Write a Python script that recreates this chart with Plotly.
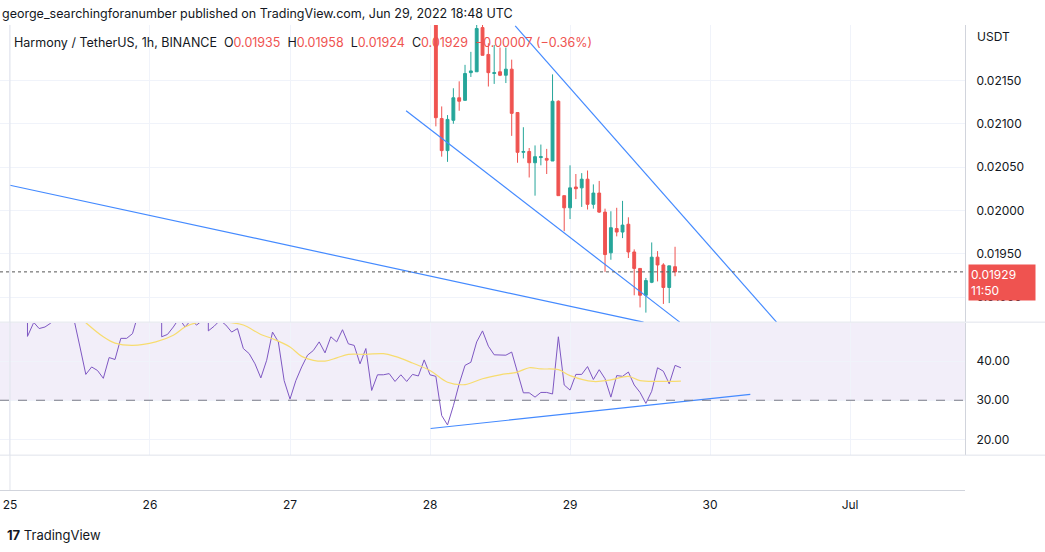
import pandas as pd
import plotly.graph_objects as go

# hourly candles, Jun 28 01:00 -> Jun 29 18:00
candle_start = "2022-06-28 01:00"
opens = [.02240, .02106, .02069, .02104, .02130, .02127, .02159, .02160, .02211, .02180,
         .02158, .02160, .02156, .02163, .02113, .02067, .02068, .02055, .02061, .02060,
         .02057, .02126, .02017, .02003, .02027, .02026, .02036, .02007, .02020, .01998,
         .01951, .01979, .01975, .01984, .01952, .01933, .01902, .01917, .01946, .01937,
         .01911, .01935]
highs = [.02260, .02120, .02110, .02141, .02149, .02168, .02183, .02214, .02220, .02193,
         .02191, .02188, .02188, .02174, .02113, .02096, .02072, .02075, .02076, .02071,
         .02157, .02127, .02017, .02052, .02042, .02043, .02046, .02030, .02034, .02002,
         .01999, .02003, .02011, .01992, .01955, .01933, .01922, .01963, .01953, .01939,
         .01936, .01958]
lows = [.02097, .02062, .02056, .02100, .02115, .02127, .02154, .02160, .02179, .02143,
        .02146, .02155, .02147, .02086, .02055, .02060, .02038, .02017, .02052, .02042,
        .02057, .02017, .01976, .01990, .02013, .02004, .02001, .02002, .01997, .01929,
        .01943, .01970, .01968, .01945, .01902, .01888, .01882, .01916, .01918, .01892,
        .01893, .01924]
closes = [.02107, .02069, .02105, .02130, .02126, .02158, .02161, .02210, .02179, .02159,
          .02159, .02156, .02163, .02112, .02067, .02068, .02055, .02062, .02062, .02058,
          .02126, .02017, .02003, .02026, .02025, .02036, .02007, .02020, .01998, .01949,
          .01980, .01975, .01983, .01952, .01933, .01902, .01919, .01946, .01937, .01911,
          .01936, .01929]

# RSI (hours after Jun 25 00:00)
rsi_hours = [3, 3, 4, 4, 5, 6, 7, 7, 9, 11, 12, 13, 14, 15, 16, 17, 18, 19, 20, 21, 22, 23,
             25, 26, 26, 27, 28, 29, 30, 31, 32, 33, 34, 34, 35, 36, 37, 38, 39, 40, 41, 42,
             43, 44, 45, 46, 47, 48, 49, 50, 51, 52, 53, 54, 55, 56, 57, 58, 59, 60, 61, 62,
             63, 64, 65, 66, 67, 68, 69, 70, 71, 72, 73, 74, 75, 76, 77, 78, 79, 80, 81, 82,
             83, 84, 85, 86, 87, 88, 89, 90, 91, 92, 93, 94, 95, 96, 97, 98, 99, 100, 101,
             102, 103, 104, 105, 106, 107, 108, 109, 110, 111, 112, 113, 114, 115]
rsi_vals = [50.0, 46.3, 49.6, 50.0, 48.3, 48.7, 49.7, 53.0, 57.3, 50.4, 43.6, 36.6, 38.5, 37.6,
            35.6, 40.9, 40.4, 45.8, 45.8, 47.0, 52.1, 56.4, 53.0, 50.4, 46.2, 46.8, 48.7,
            50.9, 48.7, 50.4, 49.2, 50.4, 50.0, 47.7, 48.9, 50.4, 49.2, 47.4, 48.3, 43.2,
            41.9, 39.3, 35.7, 40.2, 47.4, 44.9, 35.0, 30.3, 35.0, 38.5, 41.5, 42.7, 44.9,
            42.1, 46.2, 44.9, 48.0, 44.4, 44.0, 39.3, 43.2, 32.5, 36.5, 36.5, 36.8, 34.8,
            36.5, 34.8, 36.6, 36.2, 40.3, 36.5, 36.1, 26.1, 23.7, 28.6, 34.2, 38.9, 39.7,
            44.9, 47.7, 43.8, 41.6, 41.5, 41.5, 42.3, 36.8, 31.9, 31.9, 30.8, 32.0, 32.0,
            31.6, 46.2, 33.9, 32.6, 36.6, 36.6, 38.6, 35.3, 37.8, 35.5, 30.8, 36.3, 36.1,
            37.2, 33.9, 32.0, 29.2, 32.3, 38.3, 37.4, 34.2, 38.9, 38.3]
ma_hours = [13, 16, 18, 21, 25, 28, 30, 32, 35, 38, 40, 43, 45, 48, 50, 52, 54, 56, 58, 61,
            64, 66, 69, 72, 75, 78, 81, 84, 87, 89, 91, 94, 96, 100, 103, 106, 108, 111, 115]
ma_vals = [49.8, 46.2, 44.6, 44.0, 44.9, 46.6, 48.7, 49.8, 50.3, 49.8, 49.2, 46.8, 45.7,
           43.6, 41.2, 40.2, 40.0, 40.8, 41.7, 41.7, 41.9, 41.2, 39.5, 37.6, 34.6, 34.0,
           35.5, 36.5, 37.2, 38.3, 38.0, 37.8, 36.3, 34.8, 35.2, 36.1, 35.0, 34.8, 34.9]

# drawn trendlines: (hours after Jun 25, value)
fall_line = [(0, .02029), (108.6, .01871)]
channel_low = [(67.9, .02115), (114.8, .01871)]
channel_high = [(86.6, .02213), (131.4, .01871)]
rsi_line = [(72.1, 22.8), (126.9, 31.5)]

day_ticks = ["2022-06-25", "2022-06-26", "2022-06-27", "2022-06-28", "2022-06-29",
             "2022-06-30", "2022-07-01"]
day_labels = ["25", "26", "27", "28", "29", "30", "Jul"]
price_ticks = [0.0190, 0.0195, 0.0200, 0.0205, 0.0210, 0.0215]
last_price = 0.01929

base = pd.Timestamp("2022-06-25")
hr = lambda h: base + pd.Timedelta(hours=h)
times = pd.date_range(candle_start, periods=len(opens), freq="h")

GREEN, RED = "#26a69a", "#ef5350"
BLUE = "#448aff"
GRID = "#f0f3fa"

fig = go.Figure()
fig.add_trace(go.Candlestick(
    x=times, open=opens, high=highs, low=lows, close=closes,
    increasing=dict(line=dict(color=GREEN, width=1), fillcolor=GREEN),
    decreasing=dict(line=dict(color=RED, width=1), fillcolor=RED),
    whiskerwidth=0, xaxis="x", yaxis="y", showlegend=False))

for seg in [fall_line, channel_low, channel_high]:
    fig.add_trace(go.Scatter(x=[hr(p[0]) for p in seg], y=[p[1] for p in seg],
                             mode="lines", line=dict(color=BLUE, width=1.2),
                             xaxis="x", yaxis="y", showlegend=False))

fig.add_trace(go.Scatter(x=[hr(h) for h in rsi_hours], y=rsi_vals, mode="lines",
                         line=dict(color="#7e57c2", width=1), xaxis="x", yaxis="y2",
                         showlegend=False))
fig.add_trace(go.Scatter(x=[hr(h) for h in ma_hours], y=ma_vals, mode="lines",
                         line=dict(color="#f7dc6f", width=1.2, shape="spline"),
                         xaxis="x", yaxis="y2", showlegend=False))
fig.add_trace(go.Scatter(x=[hr(p[0]) for p in rsi_line], y=[p[1] for p in rsi_line],
                         mode="lines", line=dict(color=BLUE, width=1.2),
                         xaxis="x", yaxis="y2", showlegend=False))

x_range = [hr(-1.71), hr(163.7)]

fig.update_layout(
    width=1045, height=552,
    margin=dict(l=0, r=80, t=25, b=62),
    paper_bgcolor="white", plot_bgcolor="white",
    font=dict(family="Inter, Roboto, sans-serif", size=12, color="#131722"),
    xaxis=dict(range=x_range, tickvals=day_ticks, ticktext=day_labels,
               rangeslider=dict(visible=False), showgrid=True, gridcolor=GRID,
               zeroline=False, showline=True, linecolor="#d1d4dc", ticks="",
               tickfont=dict(size=12), anchor="free", position=0, ticklabelstandoff=4),
    yaxis=dict(domain=[0.361, 1], range=[0.01871, 0.02214], side="right",
               tickvals=price_ticks, ticktext=[f"{v:.5f}" for v in price_ticks],
               showgrid=True, gridcolor=GRID, zeroline=False, showline=True,
               linecolor="#d1d4dc", ticks="", tickfont=dict(size=12), ticklabelstandoff=8),
    yaxis2=dict(domain=[0.075, 0.359], range=[16, 49.7], side="right",
                tickvals=[20, 30, 40], ticktext=["20.00", "30.00", "40.00"],
                showgrid=True, gridcolor=GRID, zeroline=False, showline=True,
                linecolor="#d1d4dc", ticks="", tickfont=dict(size=12), ticklabelstandoff=8),
)

# RSI band and reference line
fig.add_shape(type="rect", xref="paper", x0=0, x1=1, yref="y2", y0=30, y1=70,
              fillcolor="rgba(126,87,194,0.1)", line=dict(width=0), layer="below")
fig.add_shape(type="line", xref="paper", x0=0, x1=1, yref="y2", y0=30, y1=30,
              line=dict(color="#787b86", width=1, dash="dash"))
# pane separators
for yy in [0.361, 0.075]:
    fig.add_shape(type="line", xref="paper", x0=0, x1=1.09, yref="paper", y0=yy, y1=yy,
                  line=dict(color="#e0e3eb", width=1))
# left border
fig.add_shape(type="line", xref="x", x0=hr(0), x1=hr(0), yref="paper", y0=0, y1=1,
              line=dict(color="#e0e3eb", width=1))
# last price dotted line
fig.add_shape(type="line", xref="paper", x0=0, x1=1, yref="y", y0=last_price, y1=last_price,
              line=dict(color="#555", width=1, dash="dot"))

fig.add_annotation(xref="paper", yref="y", x=1.003, y=last_price, xanchor="left",
                   yanchor="top", yshift=8, text="0.01929<br>11:50", showarrow=False,
                   bgcolor=RED, font=dict(color="white", size=12), align="left",
                   borderpad=2, width=62)
fig.add_annotation(xref="paper", yref="paper", x=1.01, y=0.995, xanchor="left", yanchor="top",
                   text="USDT", showarrow=False, font=dict(size=12))

fig.add_annotation(xref="paper", yref="paper", x=0.0, y=1.024, xanchor="left",
                   yanchor="middle", showarrow=False, font=dict(size=12.5),
                   text="george_searchingforanumber published on TradingView.com, Jun 29, 2022 18:48 UTC")
red_v = lambda s: f"<span style='color:{RED}'>{s}</span>"
fig.add_annotation(xref="paper", yref="paper", x=0.012, y=0.963, xanchor="left",
                   yanchor="middle", showarrow=False, font=dict(size=12.5),
                   text="Harmony / TetherUS, 1h, BINANCE  O" + red_v("0.01935") +
                        "  H" + red_v("0.01958") + "  L" + red_v("0.01924") +
                        "  C" + red_v("0.01929") + "  " + red_v("−0.00007 (−0.36%)"))
fig.add_annotation(xref="paper", yref="paper", x=0.005, y=-0.097, xanchor="left",
                   yanchor="middle", showarrow=False, font=dict(size=13),
                   text="<b>17</b> TradingView")

fig.write_html("out.html", config={"displayModeBar": False},
               post_script="document.body.style.margin='0';")
